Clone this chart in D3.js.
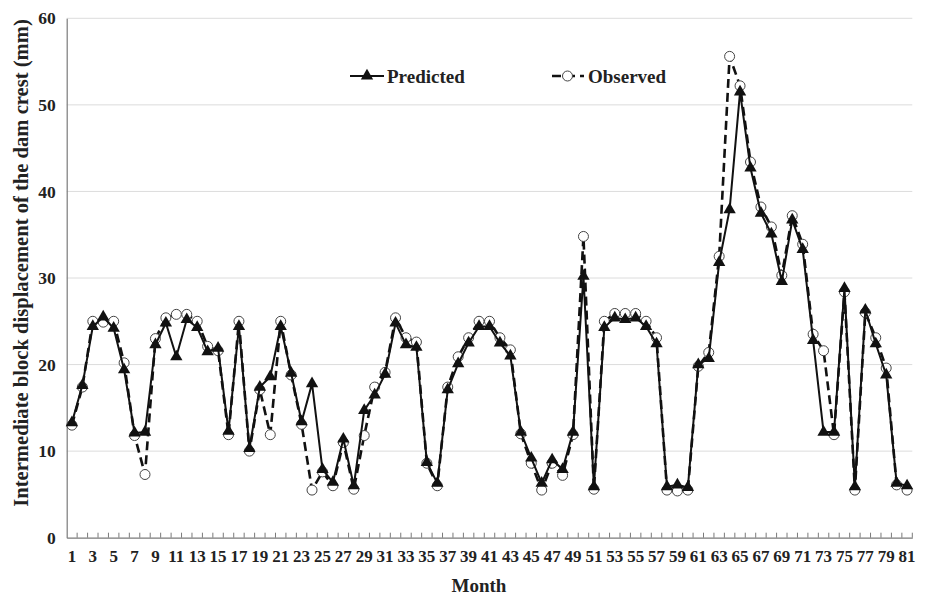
<!DOCTYPE html>
<html>
<head>
<meta charset="utf-8">
<script src="https://cdn.jsdelivr.net/npm/d3@7"></script>
<style>
  html, body { margin: 0; padding: 0; background: #fff; }
  svg { display: block; font-family: "Liberation Serif", "Times New Roman", serif; font-weight: bold; }
</style>
</head>
<body>
<svg id="chart" width="925" height="596"></svg>
<script>
// Monthly displacement of the intermediate block at the dam crest (mm)
const months = d3.range(1, 82);
const predicted = [
  13.3, 17.6, 24.4, 25.5, 24.2, 19.4, 12.1, 12.2, 22.3, 24.8,
  20.9, 25.2, 24.3, 21.5, 21.9, 12.3, 24.4, 10.3, 17.4, 18.6,
  24.4, 19.0, 13.4, 17.8, 7.9, 6.4, 11.4, 6.0, 14.7, 16.5,
  18.9, 24.8, 22.3, 22.0, 8.7, 6.3, 17.1, 20.1, 22.5, 24.4,
  24.4, 22.5, 21.0, 12.2, 9.2, 6.3, 9.0, 7.9, 12.2, 30.2,
  5.9, 24.3, 25.4, 25.2, 25.4, 24.4, 22.4, 5.9, 6.1, 5.8,
  20.0, 20.7, 31.8, 37.9, 51.5, 42.7, 37.5, 35.1, 29.6, 36.7,
  33.3, 22.8, 12.2, 12.2, 28.8, 5.9, 26.3, 22.4, 18.8, 6.3,
  6.0
];
const observed = [
  13.0, 17.4, 25.0, 24.9, 25.0, 20.2, 11.8, 7.3, 23.0, 25.4,
  25.8, 25.8, 25.0, 22.1, 21.6, 11.9, 25.0, 10.0, 17.1, 11.9,
  25.0, 18.8, 13.1, 5.5, 7.6, 6.0, 11.0, 5.6, 11.8, 17.4,
  19.1, 25.4, 23.1, 22.6, 8.6, 6.0, 17.4, 20.9, 23.1, 25.0,
  25.0, 23.1, 21.7, 12.0, 8.6, 5.5, 8.6, 7.2, 11.9, 34.8,
  5.6, 25.0, 25.9, 25.9, 25.9, 25.0, 23.1, 5.5, 5.4, 5.5,
  19.8, 21.4, 32.5, 55.6, 52.2, 43.4, 38.2, 35.9, 30.3, 37.2,
  33.9, 23.5, 21.6, 11.9, 28.4, 5.5, 26.0, 23.1, 19.6, 6.1,
  5.5
];
const yTicks = [0, 10, 20, 30, 40, 50, 60];
const xTickLabels = months.filter(m => m % 2 === 1);
const seriesNames = ["Predicted", "Observed"];

const svg = d3.select("#chart");
const plotLeft = 66.7, plotRight = 912.3, plotTop = 18.3, plotBottom = 537.7;

const x = d3.scaleBand().domain(months).range([plotLeft, plotRight]).padding(0);
const cx = m => x(m) + x.bandwidth() / 2;
const y = d3.scaleLinear().domain([0, 60]).range([plotBottom, plotTop]);

// horizontal gridlines
svg.append("g")
  .selectAll("line")
  .data(yTicks.filter(t => t > 0))
  .join("line")
  .attr("x1", plotLeft).attr("x2", plotRight)
  .attr("y1", d => y(d)).attr("y2", d => y(d))
  .attr("stroke", "#dcdcdc").attr("stroke-width", 1);

// y axis
const yAxis = svg.append("g")
  .attr("transform", `translate(${plotLeft},0)`)
  .call(d3.axisLeft(y).tickValues(yTicks).tickSize(0).tickPadding(11));
yAxis.select(".domain").attr("stroke", "#7a7a7a").attr("stroke-width", 1.2);
yAxis.selectAll("text")
  .attr("font-size", 17.5).attr("font-family", "Liberation Serif").attr("font-weight", "bold")
  .attr("fill", "#222");

// x axis: labels on odd months, small inward ticks at category boundaries
const xAxis = svg.append("g")
  .attr("transform", `translate(0,${plotBottom})`)
  .call(d3.axisBottom(x).tickValues(xTickLabels).tickSize(0).tickPadding(12));
xAxis.select(".domain").attr("stroke", "#7a7a7a").attr("stroke-width", 1.2);
xAxis.selectAll("text")
  .attr("font-size", 17).attr("font-family", "Liberation Serif").attr("font-weight", "bold")
  .attr("fill", "#222");
svg.append("g")
  .selectAll("line")
  .data(months.slice(1).concat(["end"]))
  .join("line")
  .attr("x1", d => d === "end" ? plotRight : x(d))
  .attr("x2", d => d === "end" ? plotRight : x(d))
  .attr("y1", plotBottom).attr("y2", plotBottom - 5)
  .attr("stroke", "#7a7a7a").attr("stroke-width", 1);

// axis titles
svg.append("text")
  .attr("x", 479).attr("y", 592)
  .attr("text-anchor", "middle")
  .attr("font-size", 19).attr("fill", "#222")
  .text("Month");
svg.append("text")
  .attr("transform", "translate(28,263) rotate(-90)")
  .attr("text-anchor", "middle")
  .attr("font-size", 20.6).attr("fill", "#222")
  .text("Intermediate block displacement of the dam crest (mm)");

const line = d3.line().x((d, i) => cx(months[i])).y(d => y(d));
const tri = d3.symbol().type(d3.symbolTriangle).size(66);

// observed series: dashed line with open circles
svg.append("path")
  .datum(observed)
  .attr("d", line)
  .attr("fill", "none").attr("stroke", "#111").attr("stroke-width", 2.6)
  .attr("stroke-dasharray", "9,5");
svg.append("g")
  .selectAll("circle")
  .data(observed)
  .join("circle")
  .attr("cx", (d, i) => cx(months[i])).attr("cy", d => y(d))
  .attr("r", 5)
  .attr("fill", "#fff").attr("stroke", "#444").attr("stroke-width", 1);

// predicted series: solid line with filled triangles
svg.append("path")
  .datum(predicted)
  .attr("d", line)
  .attr("fill", "none").attr("stroke", "#111").attr("stroke-width", 2);
svg.append("g")
  .selectAll("path")
  .data(predicted)
  .join("path")
  .attr("d", tri)
  .attr("transform", (d, i) => `translate(${cx(months[i])},${y(d)})`)
  .attr("fill", "#111");

// legend
const legend = svg.append("g").attr("font-size", 19).attr("fill", "#222");
const lp = legend.append("g").attr("transform", "translate(350,76)");
lp.append("line").attr("x1", 0).attr("x2", 34).attr("y1", 0).attr("y2", 0)
  .attr("stroke", "#111").attr("stroke-width", 2);
lp.append("path").attr("d", tri).attr("transform", "translate(17,0)").attr("fill", "#111");
lp.append("text").attr("x", 37).attr("y", 6.5).text(seriesNames[0]);

const lo = legend.append("g").attr("transform", "translate(552,76)");
lo.append("line").attr("x1", 0).attr("x2", 32).attr("y1", 0).attr("y2", 0)
  .attr("stroke", "#111").attr("stroke-width", 2.6).attr("stroke-dasharray", "9,5");
lo.append("circle").attr("cx", 15.5).attr("cy", 0).attr("r", 5)
  .attr("fill", "#fff").attr("stroke", "#444").attr("stroke-width", 1);
lo.append("text").attr("x", 36).attr("y", 6.5).text(seriesNames[1]);
</script>
</body>
</html>
